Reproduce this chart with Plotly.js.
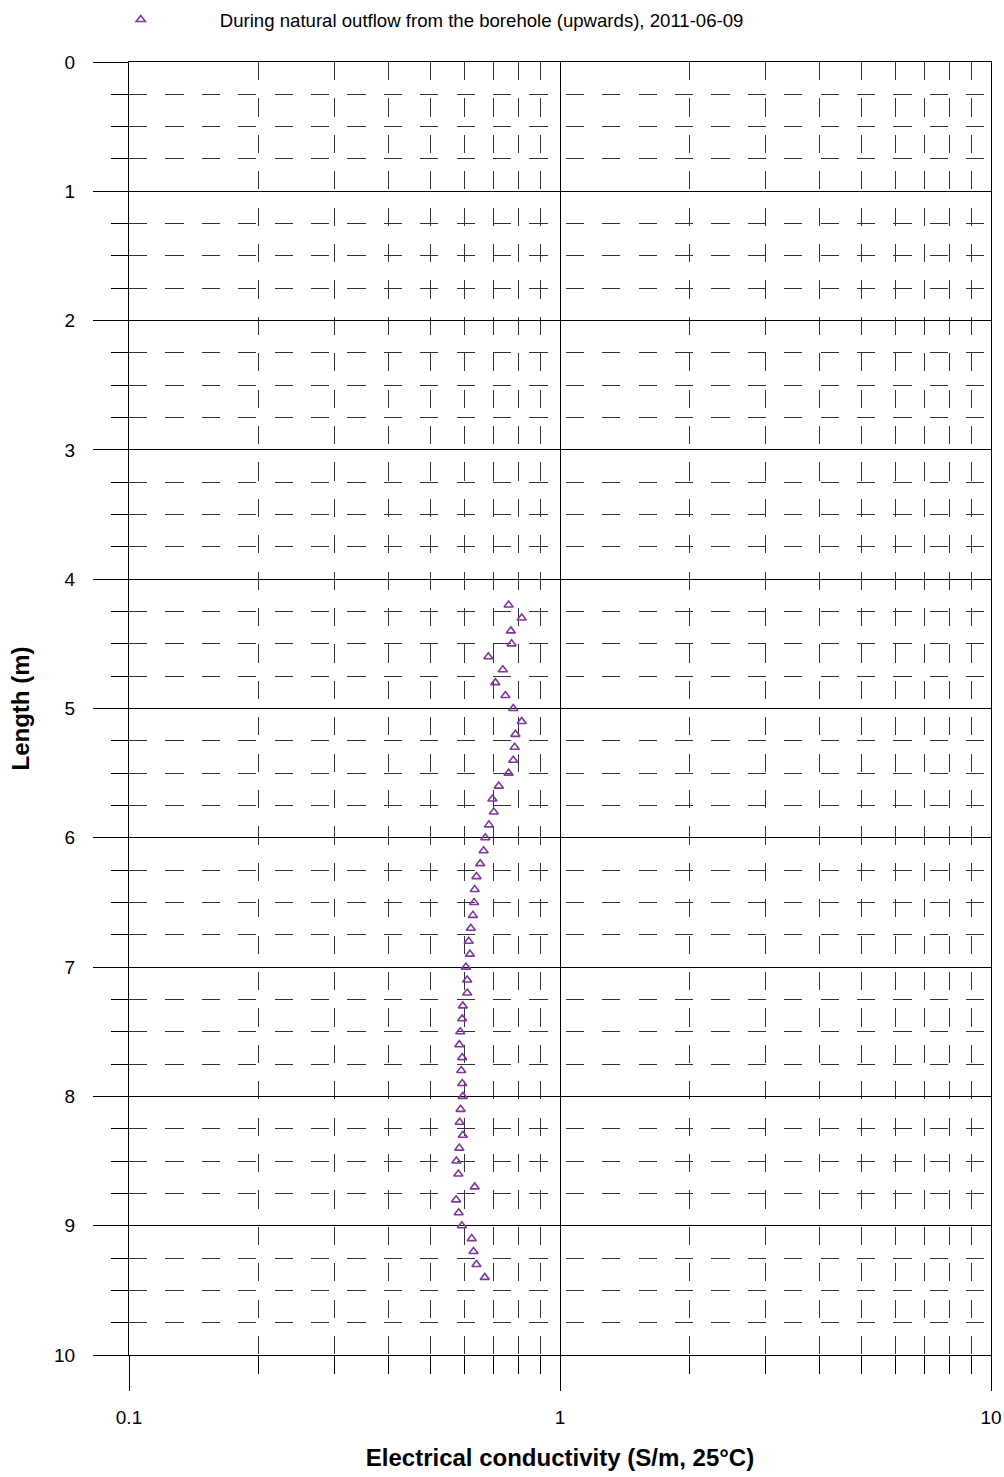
<!DOCTYPE html>
<html>
<head>
<meta charset="utf-8">
<script src="https://cdn.plot.ly/plotly-3.0.1.min.js"></script>
<style>
  html, body { margin: 0; padding: 0; background: #fff; }
  #chart { width: 1004px; height: 1477px; }
</style>
</head>
<body>
<div id="chart"></div>
<script>
// Depth along borehole (m)
const depth = [4.2, 4.3, 4.4, 4.5, 4.6, 4.7, 4.8, 4.9, 5.0, 5.1, 5.2, 5.3, 5.4, 5.5, 5.6, 5.7, 5.8, 5.9,
               6.0, 6.1, 6.2, 6.3, 6.4, 6.5, 6.6, 6.7, 6.8, 6.9, 7.0, 7.1, 7.2, 7.3, 7.4, 7.5, 7.6, 7.7,
               7.8, 7.9, 8.0, 8.1, 8.2, 8.3, 8.4, 8.5, 8.6, 8.7, 8.8, 8.9, 9.0, 9.1, 9.2, 9.3, 9.4];
// Electrical conductivity (S/m, 25°C)
const ec = [0.760, 0.815, 0.769, 0.772, 0.682, 0.737, 0.708, 0.747, 0.779, 0.815, 0.788, 0.785, 0.779, 0.760,
            0.721, 0.697, 0.702, 0.684, 0.671, 0.665, 0.653, 0.640, 0.634, 0.632, 0.628, 0.621, 0.614, 0.618,
            0.605, 0.609, 0.609, 0.595, 0.593, 0.587, 0.584, 0.593, 0.590, 0.593, 0.595, 0.588, 0.585, 0.595,
            0.584, 0.575, 0.581, 0.634, 0.574, 0.582, 0.592, 0.624, 0.630, 0.640, 0.669];

const seriesName = "During natural outflow from the borehole (upwards), 2011-06-09";
const xTickVals = [0.1, 1, 10];
const xTickText = ["0.1", "1", "10"];
const xMinorVals = [0.2, 0.3, 0.4, 0.5, 0.6, 0.7, 0.8, 0.9, 2, 3, 4, 5, 6, 7, 8, 9];
const yTickVals = [0, 1, 2, 3, 4, 5, 6, 7, 8, 9, 10];
const xTitle = "Electrical conductivity (S/m, 25°C)";
const yTitle = "Length (m)";

const FONT = "Liberation Sans, Arial, sans-serif";
const DASH = "18.2px,18.2px";

const trace = {
  x: ec,
  y: depth,
  type: "scatter",
  mode: "markers",
  name: seriesName,
  showlegend: true,
  marker: {
    symbol: "triangle-up-open",
    size: 8,
    color: "#80399a",
    line: { width: 1.6, color: "#80399a" }
  }
};

const layout = {
  width: 1004,
  height: 1477,
  margin: { l: 129, r: 13, t: 62, b: 122, pad: 0, autoexpand: false },
  paper_bgcolor: "#ffffff",
  plot_bgcolor: "#ffffff",
  font: { family: FONT, size: 19, color: "#000" },
  showlegend: true,
  legend: {
    orientation: "h",
    x: -0.078, xanchor: "left",
    y: 1.0325, yanchor: "middle",
    itemwidth: 148,
    font: { family: FONT, size: 18.6, color: "#000" },
    bgcolor: "rgba(0,0,0,0)"
  },
  xaxis: {
    type: "log",
    range: [-1, 1],
    autorange: false,
    tickmode: "array",
    tickvals: xTickVals,
    ticktext: xTickText,
    ticks: "outside",
    ticklen: 35,
    tickwidth: 1,
    tickcolor: "#000",
    ticklabelstandoff: 10,
    tickfont: { family: FONT, size: 19, color: "#000" },
    showgrid: true,
    gridcolor: "#000",
    gridwidth: 1,
    zeroline: false,
    showline: true,
    mirror: true,
    linecolor: "#000",
    linewidth: 1,
    automargin: false,
    minor: {
      tickmode: "array",
      tickvals: xMinorVals,
      ticks: "outside",
      ticklen: 18,
      tickwidth: 1,
      tickcolor: "#000",
      showgrid: true,
      gridcolor: "#333",
      gridwidth: 1,
      griddash: DASH
    },
    title: {
      text: xTitle,
      font: { family: FONT, size: 24, color: "#000", weight: "bold" },
      standoff: 22
    }
  },
  yaxis: {
    range: [10, 0],
    autorange: false,
    tickmode: "array",
    tickvals: yTickVals,
    ticks: "outside",
    ticklen: 35,
    tickwidth: 1,
    tickcolor: "#000",
    ticklabelstandoff: 14,
    tickfont: { family: FONT, size: 19, color: "#000" },
    showgrid: true,
    gridcolor: "#000",
    gridwidth: 1,
    zeroline: false,
    showline: true,
    mirror: true,
    linecolor: "#000",
    linewidth: 1,
    automargin: false,
    minor: {
      dtick: 0.25,
      ticks: "outside",
      ticklen: 17,
      tickwidth: 1,
      tickcolor: "#000",
      showgrid: true,
      gridcolor: "#333",
      gridwidth: 1,
      griddash: DASH
    },
    title: {
      text: yTitle,
      font: { family: FONT, size: 24, color: "#000", weight: "bold" },
      standoff: 17
    }
  }
};

Plotly.newPlot("chart", [trace], layout, { staticPlot: true, displayModeBar: false });
</script>
</body>
</html>
